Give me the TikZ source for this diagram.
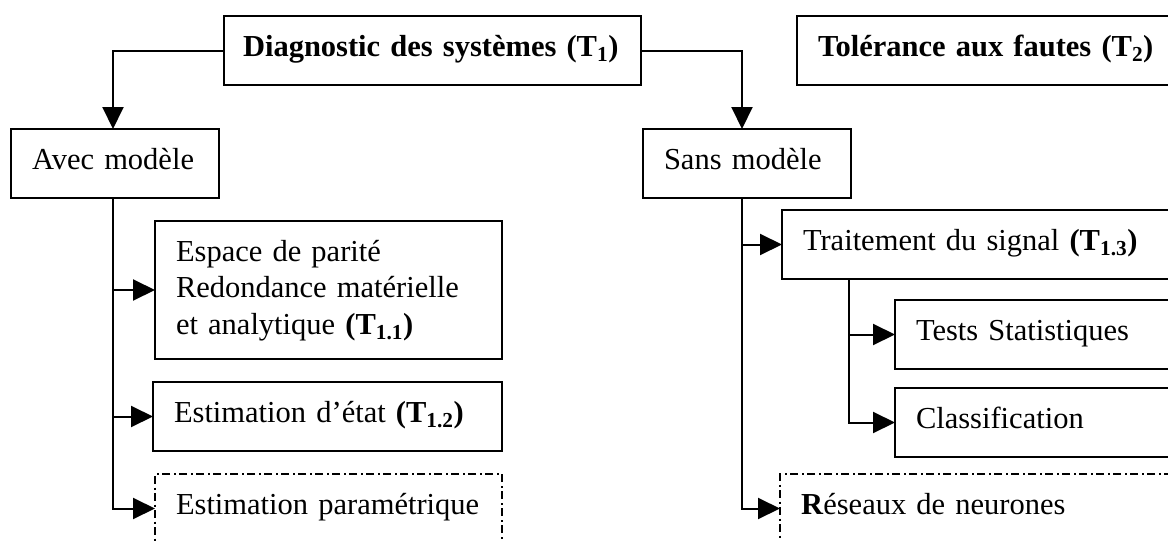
\documentclass[tikz,border=0pt]{standalone}
\usepackage{fontspec}
\setmainfont{Liberation Serif}
\usetikzlibrary{arrows.meta}

\begin{document}
\begin{tikzpicture}[x=1pt, y=-1pt,
	boite/.style={draw, line width=1.3pt, anchor=north west, outer sep=0pt, inner xsep=21pt, inner ysep=0pt,
		align=left, text height=40pt, text depth=29pt, font=\fontsize{30.5}{36.5}\selectfont},
	pointille/.style={boite, dash pattern=on 8pt off 3.5pt on 2pt off 3.5pt},
	fleche/.style={line width=2pt, -{Triangle[length=22pt,width=21pt]}}]
	\useasboundingbox (0,0) rectangle (1168,541);
	\clip (0,0) rectangle (1168,541);

	\node[boite, inner xsep=19pt, text width=379pt] (diag) at (224,16) {\textbf{Diagnostic des systèmes (T\textsubscript{1})}};
	\node[boite, text width=420pt] (tol) at (797,16) {\textbf{Tolérance aux fautes (T\textsubscript{2})}};
	\node[boite, text width=166pt] (avec) at (11,129) {Avec modèle};
	\node[boite, text width=166pt] (sans) at (643,129) {Sans modèle};

	\node[boite, text width=305pt, text depth=98pt] (parite) at (155,221) {Espace de parité\\Redondance matérielle\\et analytique \textbf{(T\textsubscript{1.1})}};
	\node[boite, text width=307pt] (etat) at (153,382) {Estimation d’état \textbf{(T\textsubscript{1.2})}};
	\node[pointille, text width=305pt] (param) at (155,474) {Estimation paramétrique};

	\node[boite, text width=400pt] (signal) at (782,210) {Traitement du signal \textbf{(T\textsubscript{1.3})}};
	\node[boite, text width=300pt] (tests) at (895,300) {Tests Statistiques};
	\node[boite, text width=300pt] (classif) at (895,388) {Classification};
	\node[pointille, text width=400pt] (reseaux) at (780,474) {\textbf{R}éseaux de neurones};

	\coordinate (gauche) at ([xshift=-2pt]avec.south);
	\coordinate (droite) at ([xshift=-5pt]sans.south);
	\coordinate (branche) at ([xshift=67pt]signal.south west);

	\draw[fleche] (diag.west) -| ([xshift=-2pt]avec.north);
	\draw[fleche] (diag.east) -| ([xshift=-5pt]sans.north);

	\draw[fleche] (gauche) |- (parite.west);
	\draw[fleche] (gauche) |- (etat.west);
	\draw[fleche] (gauche) |- (param.west);

	\draw[fleche] (droite) |- (signal.west);
	\draw[fleche] (droite) |- (reseaux.west);

	\draw[fleche] (branche) |- (tests.west);
	\draw[fleche] (branche) |- (classif.west);
\end{tikzpicture}
\end{document}
